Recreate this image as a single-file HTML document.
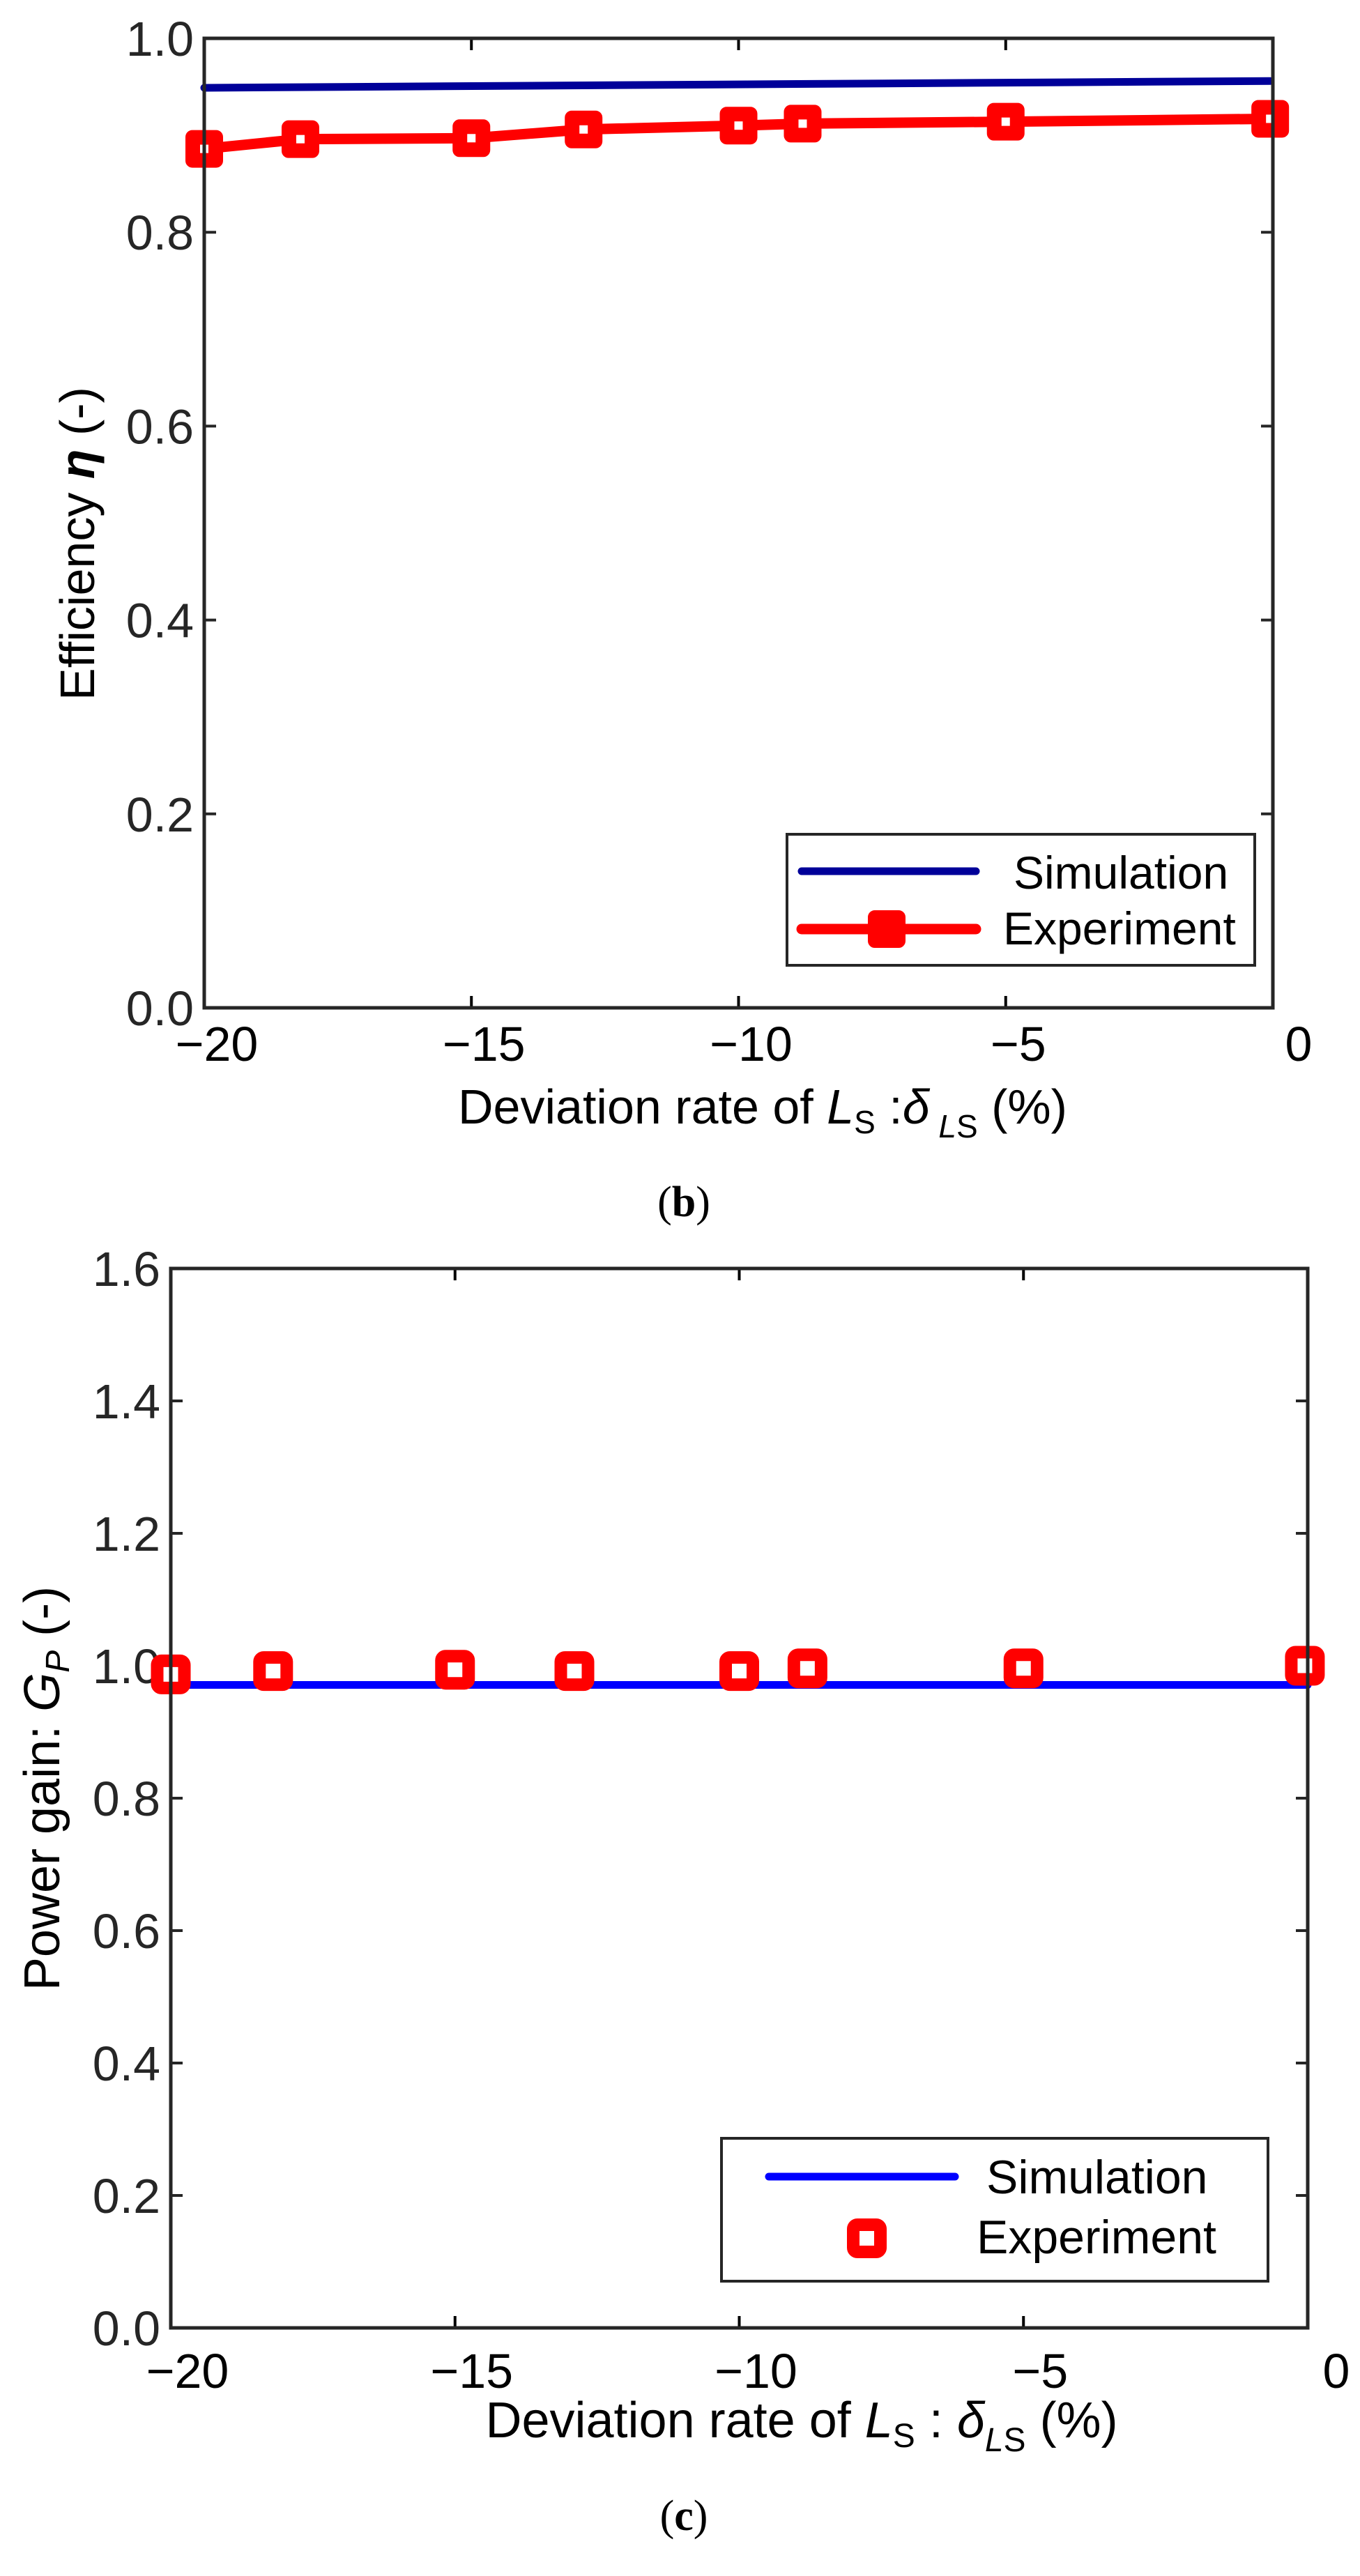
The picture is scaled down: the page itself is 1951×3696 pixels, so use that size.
<!DOCTYPE html>
<html><head><meta charset="utf-8"><style>
html,body{margin:0;padding:0;background:#fff;}
svg{display:block;font-family:"Liberation Sans",Arial,sans-serif;}
</style></head><body>
<svg id="svg" width="1951" height="3696" viewBox="0 0 1951 3696" xmlns="http://www.w3.org/2000/svg">
<g id="p1"></g>
<g id="p2"></g>
<text x="981" y="1745" font-family="Liberation Serif,serif" font-size="62" text-anchor="middle">(<tspan font-weight="bold">b</tspan>)</text>
<text x="981" y="3630" font-family="Liberation Serif,serif" font-size="62" text-anchor="middle">(<tspan font-weight="bold">c</tspan>)</text>
</svg>
<script>
const xCats = [-20, -18.2, -15, -12.9, -10, -8.8, -5, -0.05];
const effSimX = [-20, -0.05];
const effSimY = [0.949, 0.956];
const effExp = [0.886, 0.896, 0.897, 0.906, 0.910, 0.912, 0.914, 0.917];
const gainSimX = [-20, 0];
const gainSimY = [0.971, 0.971];
const gainExp = [0.987, 0.992, 0.994, 0.992, 0.992, 0.996, 0.996, 1.000];
const xTicks = [-20, -15, -10, -5, 0];
const xTickLabels = ["\u221220", "\u221215", "\u221210", "\u22125", "0"];
const effYTicks = [0, 0.2, 0.4, 0.6, 0.8, 1.0];
const gainYTicks = [0, 0.2, 0.4, 0.6, 0.8, 1.0, 1.2, 1.4, 1.6];

const NS = "http://www.w3.org/2000/svg";
function mk(parent, tag, attrs, text){
  const e = document.createElementNS(NS, tag);
  for (const k in attrs) e.setAttribute(k, attrs[k]);
  if (text !== undefined) e.textContent = text;
  parent.appendChild(e); return e;
}

function drawChart(g, cfg){
  const sx = v => cfg.L + (v - cfg.xmin) / (cfg.xmax - cfg.xmin) * (cfg.R - cfg.L);
  const sy = v => cfg.B - (v - cfg.ymin) / (cfg.ymax - cfg.ymin) * (cfg.B - cfg.T);
  cfg.yTicks.forEach(t => {
    const y = sy(t);
    let e = mk(g, "line", {x1: cfg.L, x2: cfg.L + 17, y1: y, y2: y, stroke: "#262626", "stroke-width": 4});
    
    
    e = mk(g, "line", {x1: cfg.R, x2: cfg.R - 17, y1: y, y2: y, stroke: "#262626", "stroke-width": 4});
    
    
    e = mk(g, "text", {x: cfg.yLabelRight, y: y + 25, "font-size": 70, fill: "#262626", "text-anchor": "end"}, t.toFixed(1));
    
    
  });
  xTicks.forEach((t, i) => {
    const x = sx(t);
    let e = mk(g, "line", {x1: x, x2: x, y1: cfg.B, y2: cfg.B - 17, stroke: "#000", "stroke-width": 4});
    
    
    e = mk(g, "line", {x1: x, x2: x, y1: cfg.T, y2: cfg.T + 17, stroke: "#000", "stroke-width": 4});
    
    
    const off = t === 0 ? cfg.zeroOff : cfg.labOff;
    e = mk(g, "text", {x: x + off, y: cfg.xLabelY, "font-size": 70, fill: "#000", "text-anchor": "middle"}, xTickLabels[i]);
    
    
  });
  let pts = cfg.simX.map((x, i) => sx(x) + "," + sy(cfg.simY[i])).join(" ");
  let e = mk(g, "polyline", {points: pts, fill: "none", stroke: cfg.simColor, "stroke-width": 11, "stroke-linecap": "round"});
  
  
  if (cfg.expLine){
    pts = xCats.map((x, i) => sx(x) + "," + sy(cfg.exp[i])).join(" ");
    e = mk(g, "polyline", {points: pts, fill: "none", stroke: "#ff0000", "stroke-width": 15, "stroke-linejoin": "round", "stroke-linecap": "round"});
    
    
  }
  xCats.forEach((x, i) => {
    const cx = sx(x), cy = sy(cfg.exp[i]);
    const m = mk(g, "rect", {x: cx - cfg.ms/2 + cfg.sw/2, y: cy - cfg.ms/2 + cfg.sw/2, width: cfg.ms - cfg.sw, height: cfg.ms - cfg.sw, rx: 6, fill: cfg.expLine ? "#ff0000" : "#fff", stroke: "#ff0000", "stroke-width": cfg.sw});
    
    
    if (cfg.expLine){
      const h = mk(g, "rect", {x: cx - 6, y: cy - 6, width: 12, height: 12, fill: "#fff"});
      
      
    }
  });
  e = mk(g, "rect", {x: cfg.L, y: cfg.T, width: cfg.R - cfg.L, height: cfg.B - cfg.T, fill: "none", stroke: "#262626", "stroke-width": 5});
  
  
}

const p1 = document.getElementById("p1");
drawChart(p1, {L: 293, R: 1826, T: 55, B: 1446, xmin: -20, xmax: 0, ymin: 0, ymax: 1.0,
  yTicks: effYTicks, yLabelRight: 278, xLabelY: 1522, labOff: 18, zeroOff: 37,
  simX: effSimX, simY: effSimY, simColor: "#000099", exp: effExp, expLine: true, ms: 54, sw: 8});
const p2 = document.getElementById("p2");
drawChart(p2, {L: 245, R: 1876, T: 1820, B: 3340, xmin: -20, xmax: 0, ymin: 0, ymax: 1.6,
  yTicks: gainYTicks, yLabelRight: 230, xLabelY: 3426, labOff: 24, zeroOff: 41,
  simX: gainSimX, simY: gainSimY, simColor: "#0000ff", exp: gainExp, expLine: false, ms: 57, sw: 18});
</script>
<script>
(function(){
const svg = document.getElementById("svg");
const add = (tag, attrs, text) => { const e = document.createElementNS("http://www.w3.org/2000/svg", tag); for (const k in attrs) e.setAttribute(k, attrs[k]); if (text!==undefined) e.textContent = text; svg.appendChild(e); return e; };
let e;
e = add("rect", {x:1129, y:1197, width:671, height:188, fill:"#fff", stroke:"#262626", "stroke-width":4});


e = add("line", {x1:1150, x2:1400, y1:1250, y2:1250, stroke:"#000099", "stroke-width":11, "stroke-linecap":"round"});


e = add("text", {x:1454, y:1275, "font-size":66}, "Simulation");


e = add("line", {x1:1150, x2:1400, y1:1333, y2:1333, stroke:"#ff0000", "stroke-width":15, "stroke-linecap":"round"});


e = add("rect", {x:1249, y:1310, width:46, height:46, rx:6, fill:"#ff0000", stroke:"#ff0000", "stroke-width":8});


e = add("text", {x:1439, y:1355, "font-size":66}, "Experiment");


e = add("rect", {x:1035, y:3068, width:784, height:205, fill:"#fff", stroke:"#262626", "stroke-width":4});


e = add("line", {x1:1103, x2:1370, y1:3123, y2:3123, stroke:"#0000ff", "stroke-width":11, "stroke-linecap":"round"});


e = add("text", {x:1415, y:3147, "font-size":68}, "Simulation");


e = add("rect", {x:1224, y:3192, width:39, height:39, rx:6, fill:"#fff", stroke:"#ff0000", "stroke-width":18});


e = add("text", {x:1401, y:3233, "font-size":68}, "Experiment");


e = add("text", {x:0, y:0, "font-size":70, "text-anchor":"middle", transform:"translate(135,780) rotate(-90)"});
e.innerHTML = 'Efficiency <tspan font-style="italic" font-weight="bold">η</tspan> (-)';


e = add("text", {x:1094, y:1612, "font-size":70, "text-anchor":"middle"});
e.innerHTML = 'Deviation rate of  <tspan font-style="italic">L</tspan><tspan font-size="46" dy="14">S</tspan><tspan dy="-14"> :</tspan><tspan font-style="italic">δ</tspan><tspan font-size="46" dy="20" font-style="italic"> L</tspan><tspan font-size="46">S</tspan><tspan dy="-20">  (%)</tspan>';


e = add("text", {x:0, y:0, "font-size":72, "text-anchor":"middle", transform:"translate(85,2566) rotate(-90)"});
e.innerHTML = 'Power gain:  <tspan font-style="italic">G</tspan><tspan font-size="48" font-style="italic" dy="14">P</tspan><tspan dy="-14">  (-)</tspan>';


e = add("text", {x:1150, y:3497, "font-size":72, "text-anchor":"middle"});
e.innerHTML = 'Deviation rate of <tspan font-style="italic">L</tspan><tspan font-size="48" dy="14">S</tspan><tspan dy="-14"> : </tspan><tspan font-style="italic">δ</tspan><tspan font-size="48" dy="20" font-style="italic">L</tspan><tspan font-size="48">S</tspan><tspan dy="-20">   (%)</tspan>';


})();
</script>
</body></html>
